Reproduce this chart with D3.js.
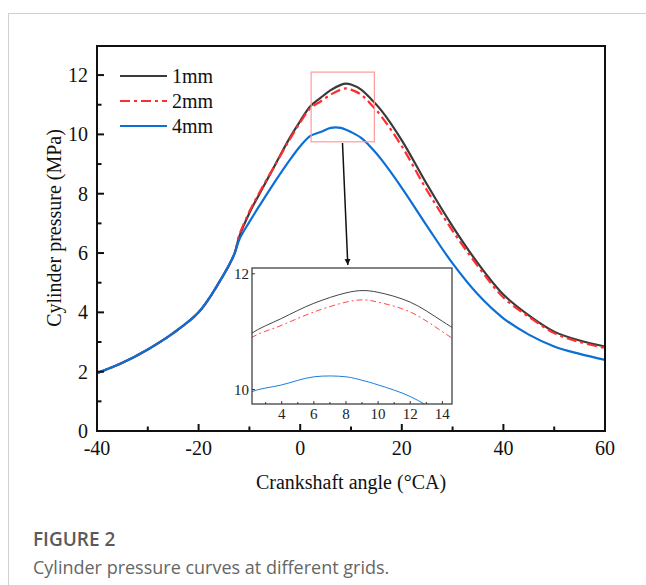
<!DOCTYPE html>
<html>
<head>
<meta charset="utf-8">
<script src="https://cdn.jsdelivr.net/npm/d3@7"></script>
<style>
  html, body { margin: 0; padding: 0; background: #fff; }
  svg { display: block; }
</style>
</head>
<body>
<svg id="chart" width="646" height="585"></svg>
<script>
// Crank angle samples (°CA) and cylinder pressure (MPa) for each grid size
const angle1 = [-40, -35, -30, -25, -20, -16, -13, -12, -10, -8, -5, -2, 0, 2, 4, 6, 8, 9, 10, 12, 14, 16, 20, 25, 30, 35, 40, 45, 50, 55, 60];
const p1mm   = [1.95, 2.3, 2.75, 3.3, 4.0, 5.0, 5.95, 6.55, 7.35, 8.0, 8.95, 9.9, 10.45, 10.95, 11.23, 11.49, 11.67, 11.71, 11.68, 11.51, 11.18, 10.8, 9.8, 8.3, 6.9, 5.65, 4.6, 3.9, 3.35, 3.05, 2.85];
const p2mm   = [1.95, 2.3, 2.75, 3.3, 4.0, 5.0, 5.95, 6.6, 7.4, 8.05, 8.95, 9.85, 10.4, 10.88, 11.11, 11.34, 11.51, 11.55, 11.51, 11.34, 11.0, 10.6, 9.6, 8.1, 6.75, 5.55, 4.5, 3.85, 3.3, 3.0, 2.8];
const p4mm   = [1.95, 2.3, 2.75, 3.3, 4.0, 5.0, 5.95, 6.45, 7.05, 7.6, 8.4, 9.15, 9.6, 9.95, 10.08, 10.22, 10.22, 10.16, 10.08, 9.88, 9.55, 9.15, 8.2, 6.9, 5.65, 4.6, 3.8, 3.25, 2.85, 2.6, 2.4];

const seriesNames = ["1mm", "2mm", "4mm"];
const seriesColors = ["#3a3a3a", "#ff2d2d", "#0b6fd6"];
const seriesDash = [null, "10,4,3,4", null];
const seriesValues = [p1mm, p2mm, p4mm];

const xTicks = [-40, -20, 0, 20, 40, 60];
const yTicks = [0, 2, 4, 6, 8, 10, 12];
const insetXTicks = [4, 6, 8, 10, 12, 14];
const insetYTicks = [10, 12];

// zoom window shown in the inset
const zoomX = [2.15, 14.6];
const zoomY = [9.75, 12.1];

const svg = d3.select("#chart");
const serif = "'Liberation Serif', 'Times New Roman', serif";

// page frame lines
svg.append("line").attr("x1", 8.5).attr("x2", 8.5).attr("y1", 13).attr("y2", 585)
  .attr("stroke", "#d0d0d0").attr("stroke-width", 1);
svg.append("line").attr("x1", 8).attr("x2", 646).attr("y1", 13.5).attr("y2", 13.5)
  .attr("stroke", "#d0d0d0").attr("stroke-width", 1);

// main plot area
const M = { left: 97, right: 605, top: 46, bottom: 431 };
const x = d3.scaleLinear().domain([-40, 60]).range([M.left, M.right]);
const y = d3.scaleLinear().domain([0, 12.98]).range([M.bottom, M.top]);

const rows = (vals) => angle1.map((a, i) => ({ a, p: vals[i] }));

const line = d3.line().x(d => x(d.a)).y(d => y(d.p)).curve(d3.curveCatmullRom.alpha(0.5));

const g = svg.append("g");

// curves
seriesValues.forEach((vals, i) => {
  g.append("path").datum(rows(vals))
    .attr("fill", "none")
    .attr("stroke", seriesColors[i])
    .attr("stroke-width", 2.2)
    .attr("stroke-dasharray", seriesDash[i])
    .attr("d", line);
});

// frame
g.append("rect").attr("x", M.left).attr("y", M.top)
  .attr("width", M.right - M.left).attr("height", M.bottom - M.top)
  .attr("fill", "none").attr("stroke", "#111").attr("stroke-width", 2);

// axis ticks (inward) and labels
const xMinor = d3.range(-30, 60, 20);
const axisG = svg.append("g").attr("stroke", "#111").attr("stroke-width", 2);
xTicks.forEach(v => axisG.append("line").attr("x1", x(v)).attr("x2", x(v)).attr("y1", M.bottom).attr("y2", M.bottom - 7));
xMinor.forEach(v => axisG.append("line").attr("x1", x(v)).attr("x2", x(v)).attr("y1", M.bottom).attr("y2", M.bottom - 4.5));
const yMinor = d3.range(1, 13, 2);
yTicks.forEach(v => axisG.append("line").attr("x1", M.left).attr("x2", M.left + 7).attr("y1", y(v)).attr("y2", y(v)));
yMinor.forEach(v => axisG.append("line").attr("x1", M.left).attr("x2", M.left + 4.5).attr("y1", y(v)).attr("y2", y(v)));

svg.append("g").selectAll("text").data(xTicks).join("text")
  .attr("x", d => x(d)).attr("y", M.bottom + 24)
  .attr("text-anchor", "middle").attr("font-family", serif).attr("font-size", 20).attr("fill", "#111")
  .text(d => d);
svg.append("g").selectAll("text").data(yTicks).join("text")
  .attr("x", M.left - 9).attr("y", d => y(d) + 7)
  .attr("text-anchor", "end").attr("font-family", serif).attr("font-size", 20).attr("fill", "#111")
  .text(d => d);

// axis titles
svg.append("text").attr("x", 351).attr("y", 489)
  .attr("text-anchor", "middle").attr("font-family", serif).attr("font-size", 20).attr("fill", "#111")
  .text("Crankshaft angle (°CA)");
svg.append("text").attr("transform", "translate(61,228) rotate(-90)")
  .attr("text-anchor", "middle").attr("font-family", serif).attr("font-size", 20).attr("fill", "#111")
  .text("Cylinder pressure (MPa)");

// legend
const legend = svg.append("g");
seriesNames.forEach((name, i) => {
  const ly = 76 + i * 25;
  legend.append("line").attr("x1", 120).attr("x2", 167).attr("y1", ly).attr("y2", ly)
    .attr("stroke", seriesColors[i]).attr("stroke-width", 2.2).attr("stroke-dasharray", seriesDash[i]);
  legend.append("text").attr("x", 172).attr("y", ly + 7)
    .attr("font-family", serif).attr("font-size", 20).attr("fill", "#111").text(name);
});

// zoom window marker on the main plot
svg.append("rect")
  .attr("x", x(zoomX[0])).attr("y", y(zoomY[1]))
  .attr("width", x(zoomX[1]) - x(zoomX[0])).attr("height", y(zoomY[0]) - y(zoomY[1]))
  .attr("fill", "none").attr("stroke", "#ff9b9b").attr("stroke-width", 1.2);

// arrow pointing to the inset
svg.append("defs").append("marker").attr("id", "arrowHead")
  .attr("viewBox", "0 0 10 10").attr("refX", 10).attr("refY", 5)
  .attr("markerWidth", 6).attr("markerHeight", 7).attr("markerUnits", "userSpaceOnUse")
  .attr("orient", "auto")
  .append("path").attr("d", "M0,0 L10,5 L0,10 Z").attr("fill", "#111");
svg.append("line").attr("x1", 342.5).attr("y1", 143).attr("x2", 347.8).attr("y2", 265)
  .attr("stroke", "#111").attr("stroke-width", 1.5).attr("marker-end", "url(#arrowHead)");

// inset
const I = { left: 252, right: 452, top: 268, bottom: 404 };
const ix = d3.scaleLinear().domain(zoomX).range([I.left, I.right]);
const iy = d3.scaleLinear().domain(zoomY).range([I.bottom, I.top]);
const inset = svg.append("g");
inset.append("rect").attr("x", I.left).attr("y", I.top)
  .attr("width", I.right - I.left).attr("height", I.bottom - I.top)
  .attr("fill", "#fff");
inset.append("clipPath").attr("id", "insetClip")
  .append("rect").attr("x", I.left).attr("y", I.top)
  .attr("width", I.right - I.left).attr("height", I.bottom - I.top);
const iline = d3.line().x(d => ix(d.a)).y(d => iy(d.p)).curve(d3.curveCatmullRom.alpha(0.5));
const insetDash = [null, "6,3,2,3", null];
const insetColors = ["#444", "#ff4a4a", "#1a7ee0"];
seriesValues.forEach((vals, i) => {
  inset.append("path").datum(rows(vals))
    .attr("clip-path", "url(#insetClip)")
    .attr("fill", "none").attr("stroke", insetColors[i]).attr("stroke-width", 1)
    .attr("stroke-dasharray", insetDash[i]).attr("d", iline);
});
inset.append("rect").attr("x", I.left).attr("y", I.top)
  .attr("width", I.right - I.left).attr("height", I.bottom - I.top)
  .attr("fill", "none").attr("stroke", "#333").attr("stroke-width", 1.2);
const insetTicks = inset.append("g").attr("stroke", "#333").attr("stroke-width", 1);
d3.range(3, 15, 1).forEach(v => insetTicks.append("line")
  .attr("x1", ix(v)).attr("x2", ix(v)).attr("y1", I.bottom).attr("y2", I.bottom - (v % 2 === 0 ? 3 : 2)));
insetYTicks.forEach(v => insetTicks.append("line")
  .attr("x1", I.left).attr("x2", I.left + 3).attr("y1", iy(v)).attr("y2", iy(v)));
inset.append("g").selectAll("text").data(insetXTicks).join("text")
  .attr("x", d => ix(d)).attr("y", I.bottom + 15)
  .attr("text-anchor", "middle").attr("font-family", serif).attr("font-size", 15).attr("fill", "#222")
  .text(d => d);
inset.append("g").selectAll("text").data(insetYTicks).join("text")
  .attr("x", I.left - 3).attr("y", d => iy(d) + 5)
  .attr("text-anchor", "end").attr("font-family", serif).attr("font-size", 15).attr("fill", "#222")
  .text(d => d);

// caption
const sans = "'Open Sans', 'Noto Sans', sans-serif";
svg.append("text").attr("x", 33).attr("y", 546)
  .attr("font-family", sans).attr("font-size", 19).attr("font-weight", 600).attr("fill", "#5a5a5a")
  .text("FIGURE 2");
svg.append("text").attr("x", 33).attr("y", 574)
  .attr("font-family", sans).attr("font-size", 18).attr("fill", "#666")
  .text("Cylinder pressure curves at different grids.");
</script>
</body>
</html>
